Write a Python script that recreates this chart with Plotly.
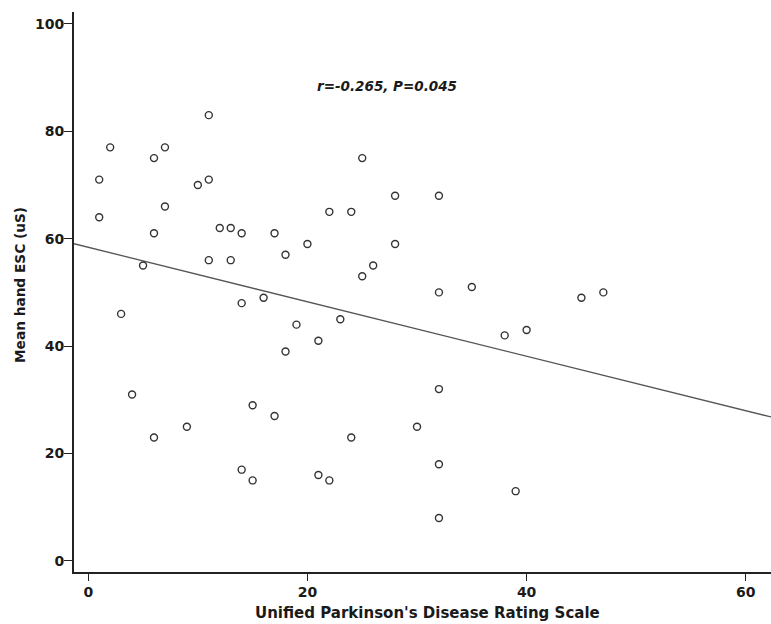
import plotly.graph_objects as go
import numpy as np

# UPDRS score (x) and mean hand ESC (y)
updrs = [1, 2, 1, 6, 7, 11, 10, 11, 7, 6, 12, 13, 14, 17, 22, 24, 25, 28, 32,
         20, 28, 18, 5, 11, 13, 26, 25, 3, 14, 16, 32, 35, 45, 47, 19, 23, 21,
         18, 38, 40, 4, 15, 17, 9, 6, 30, 24, 32, 14, 15, 21, 22, 32, 39, 32]
esc = [71, 77, 64, 75, 77, 83, 70, 71, 66, 61, 62, 62, 61, 61, 65, 65, 75, 68, 68,
       59, 59, 57, 55, 56, 56, 55, 53, 46, 48, 49, 50, 51, 49, 50, 44, 45, 41,
       39, 42, 43, 31, 29, 27, 25, 23, 25, 23, 32, 17, 15, 16, 15, 18, 13, 8]

fit_intercept = 58.4
fit_slope = -0.507

x_range = [-1.3, 62.3]
y_range = [-2.05, 102.2]

x_ticks = [0, 20, 40, 60]
y_ticks = [0, 20, 40, 60, 80, 100]

annotation_text = "r=-0.265, P=0.045"
x_title = "Unified Parkinson's Disease Rating Scale"
y_title = "Mean hand ESC (uS)"

W, H = 771, 624
L, R, T, B = 74, 0, 12, 52
pw, ph = W - L - R, H - T - B

line_x = np.array(x_range)
line_y = fit_intercept + fit_slope * line_x

fig = go.Figure()
fig.add_trace(go.Scatter(
    x=line_x, y=line_y, mode="lines",
    line=dict(color="#555555", width=1.3),
    hoverinfo="skip", showlegend=False, cliponaxis=True,
))
fig.add_trace(go.Scatter(
    x=updrs, y=esc, mode="markers",
    marker=dict(symbol="circle-open", size=7, color="#333333",
                line=dict(width=1.4, color="#333333")),
    showlegend=False, cliponaxis=False,
))

tick_font = dict(family="DejaVu Sans", size=14, color="#1a1a1a", weight="bold")

axis_common = dict(ticks="outside", tickwidth=1.3, tickcolor="#222222",
                   showline=True, linecolor="#222222", linewidth=2,
                   showgrid=False, zeroline=False, tickfont=tick_font)

fig.update_layout(
    width=W, height=H,
    margin=dict(l=L, r=R, t=T, b=B),
    paper_bgcolor="white", plot_bgcolor="white",
    xaxis=dict(range=x_range, tickvals=x_ticks, ticklen=7,
               ticklabelstandoff=-1, **axis_common),
    yaxis=dict(range=y_range, tickvals=y_ticks, ticklen=8,
               ticklabelstandoff=-3, **axis_common),
    annotations=[
        dict(text="<b><i>" + annotation_text + "</i></b>", x=27.3, y=88.4,
             xref="x", yref="y", showarrow=False,
             font=dict(family="DejaVu Sans", size=13.5, color="#1a1a1a")),
        dict(text="<b>" + x_title + "</b>",
             x=(427.5 - L) / pw, y=-(613 - (H - B)) / ph,
             xref="paper", yref="paper", showarrow=False,
             xanchor="center", yanchor="middle",
             font=dict(family="DejaVu Sans", size=15, color="#1a1a1a")),
        dict(text="<b>" + y_title + "</b>",
             x=-(L - 20) / pw, y=((H - B) - 285) / ph,
             xref="paper", yref="paper", showarrow=False, textangle=-90,
             xanchor="center", yanchor="middle",
             font=dict(family="DejaVu Sans", size=13.7, color="#1a1a1a")),
    ],
)

fig.write_html("out.html")
